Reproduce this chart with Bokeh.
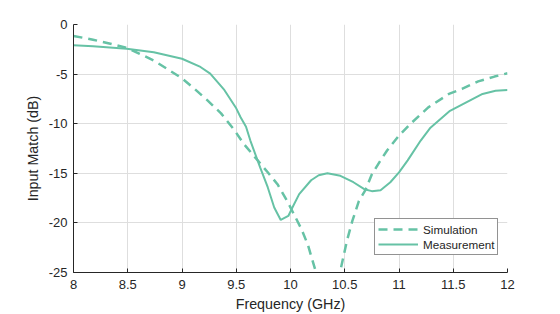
from bokeh.plotting import figure
from bokeh.models import Range1d, FixedTicker, Legend, LegendItem
from bokeh.embed import file_html
from bokeh.resources import INLINE

# ---- data ----
sim_freq = [8.0, 8.18, 8.34, 8.49, 8.61, 8.74, 8.86, 9.0, 9.11, 9.23, 9.36, 9.48,
            9.57, 9.69, 9.79, 9.88, 9.97, 10.03, 10.10, 10.16, 10.23, 10.34, 10.46,
            10.52, 10.57, 10.63, 10.69, 10.75, 10.83, 10.89, 11.0, 11.12, 11.27,
            11.46, 11.58, 11.73, 11.88, 12.0]
sim_db = [-1.15, -1.53, -1.94, -2.35, -2.96, -3.63, -4.45, -5.43, -6.44, -7.6, -8.96, -10.6,
          -12.05, -13.6, -14.9, -16.1, -17.8, -19.1, -20.6, -22.2, -24.8, -30.0, -24.8,
          -21.8, -19.8, -17.8, -16.7, -15.1, -13.7, -12.7, -11.2, -9.87, -8.35,
          -7.0, -6.5, -5.73, -5.25, -4.92]

meas_freq = [8.0, 8.18, 8.49, 8.74, 9.0, 9.17, 9.26, 9.39, 9.5, 9.54, 9.59, 9.63, 9.72,
             9.79, 9.85, 9.91, 9.98, 10.02, 10.08, 10.19, 10.26, 10.34, 10.46, 10.58,
             10.68, 10.75, 10.83, 10.92, 11.0, 11.08, 11.20, 11.29, 11.47, 11.62,
             11.77, 11.89, 12.0]
meas_db = [-2.1, -2.2, -2.45, -2.8, -3.45, -4.28, -4.95, -6.6, -8.45, -9.35, -10.3, -11.7, -14.4,
           -16.4, -18.45, -19.7, -19.3, -18.4, -17.1, -15.7, -15.2, -15.0, -15.25, -15.9,
           -16.6, -16.8, -16.7, -15.9, -14.9, -13.7, -11.7, -10.4, -8.7, -7.85,
           -7.0, -6.67, -6.6]

x_ticks = [8, 8.5, 9, 9.5, 10, 10.5, 11, 11.5, 12]
x_tick_labels = ["8", "8.5", "9", "9.5", "10", "10.5", "11", "11.5", "12"]
y_ticks = [-25, -20, -15, -10, -5, 0]
y_tick_labels = ["-25", "-20", "-15", "-10", "-5", "0"]

series_names = ["Simulation", "Measurement"]

# ---- style ----
COLOR = "#66c2a5"
TXT = "#262626"
FONT = "Liberation Sans"

p = figure(width=560, height=314, output_backend="svg", toolbar_location=None,
           x_range=Range1d(8, 12), y_range=Range1d(-25, 0),
           min_border_left=73, min_border_right=53, min_border_top=24, min_border_bottom=42)
p.outline_line_color = None
p.background_fill_color = "white"
p.border_fill_color = "white"

r_sim = p.line(sim_freq, sim_db, line_color=COLOR, line_width=2.5, line_dash="9 6")
r_meas = p.line(meas_freq, meas_db, line_color=COLOR, line_width=2)

for ax, ticks, labels, lab in ((p.xaxis[0], x_ticks, x_tick_labels, "Frequency (GHz)"),
                               (p.yaxis[0], y_ticks, y_tick_labels, "Input Match (dB)")):
    ax.ticker = FixedTicker(ticks=ticks)
    ax.major_label_overrides = {t: l for t, l in zip(ticks, labels)}
    ax.minor_tick_line_color = None
    ax.major_tick_in = 4
    ax.major_tick_out = 0
    ax.major_tick_line_color = TXT
    ax.axis_line_color = TXT
    ax.axis_line_width = 1
    ax.major_label_text_font = FONT
    ax.major_label_text_font_size = "13px"
    ax.major_label_text_color = TXT
    ax.axis_label = lab
    ax.axis_label_text_font = FONT
    ax.axis_label_text_font_size = "14.3px"
    ax.axis_label_text_font_style = "normal"
    ax.axis_label_text_color = TXT

p.xaxis.major_label_standoff = 7
p.xaxis.axis_label_standoff = 4
p.yaxis.major_label_standoff = 6
p.yaxis.axis_label_standoff = 5

p.grid.grid_line_color = "#dedede"
p.grid.grid_line_width = 1

legend = Legend(items=[LegendItem(label=series_names[0], renderers=[r_sim]),
                       LegendItem(label=series_names[1], renderers=[r_meas])],
                location=(301, 17), orientation="vertical")
legend.label_text_font = FONT
legend.label_text_font_size = "11.7px"
legend.label_text_color = TXT
legend.border_line_color = TXT
legend.border_line_width = 1
legend.background_fill_color = "white"
legend.background_fill_alpha = 1
legend.padding = 3
legend.spacing = 1
legend.margin = 0
legend.glyph_width = 40
legend.glyph_height = 14
legend.label_height = 14
legend.label_standoff = 5
p.add_layout(legend, "center")

open("out.html", "w").write(file_html(p, INLINE))
